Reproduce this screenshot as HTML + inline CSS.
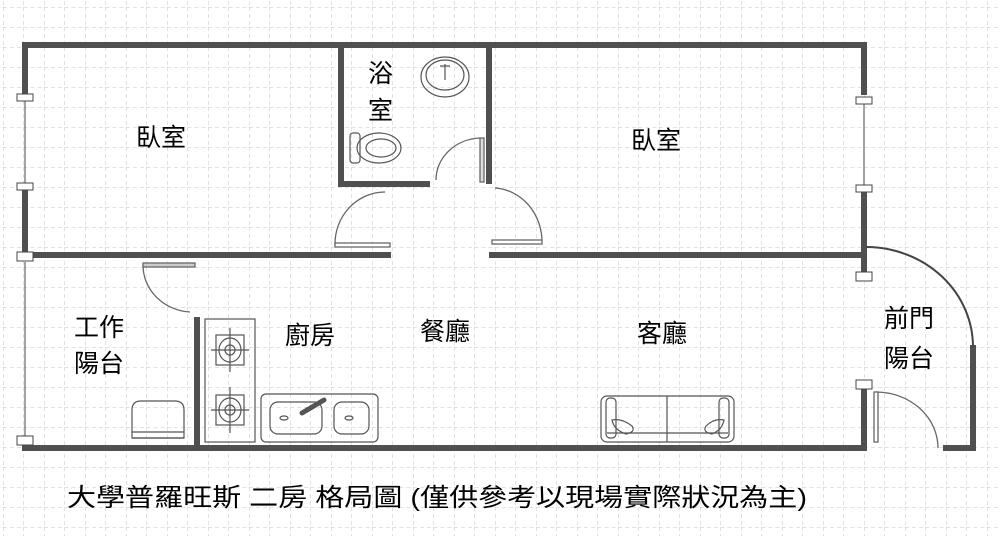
<!DOCTYPE html>
<html><head><meta charset="utf-8"><style>
html,body{margin:0;padding:0;background:#fff;}
svg{display:block;}
text{font-family:"Liberation Sans","Noto Sans CJK TC",sans-serif;fill:#000;}
</style></head><body>
<svg width="1000" height="536" viewBox="0 0 1000 536" xmlns="http://www.w3.org/2000/svg">
<defs>
<pattern id="g" x="3" y="7" width="20.5" height="20" patternUnits="userSpaceOnUse">
<path d="M0 0V20M0 0H20.5" stroke="#c4c4c4" stroke-width="1" stroke-dasharray="4 3" fill="none"/>
</pattern>
</defs>
<rect width="1000" height="536" fill="#fff"/>
<rect width="1000" height="536" fill="url(#g)"/>
<g stroke="#505050" stroke-width="6" fill="none" stroke-linecap="square">
<path d="M25 45H864V92"/>
<path d="M25 45V92"/>
<path d="M25 190V255"/>
<path d="M864 190V272"/>
<path d="M864 390V448H25"/>
<path d="M25 255H388"/>
<path d="M492 255H864"/>
<path d="M341 45V184H427"/>
<path d="M489 45V181"/>
<path d="M197 320V448"/>
<path d="M973 348V448H946"/>
</g>
<g stroke="#666" stroke-width="1.2" fill="none">
<path d="M25 97V186M25 262V440M864 100V188"/>
</g>
<g fill="#fff" stroke="#444" stroke-width="1">
<rect x="17" y="94" width="16" height="7"/>
<rect x="17" y="183" width="16" height="7"/>
<rect x="17" y="252" width="16" height="9"/>
<rect x="17" y="436" width="16" height="9"/>
<rect x="856" y="97" width="16" height="7"/>
<rect x="856" y="185" width="16" height="7"/>
<rect x="856" y="272" width="16" height="9"/>
<rect x="856" y="380" width="16" height="9"/>
</g>
<g stroke="#666" stroke-width="1.3" fill="none">
<path d="M143 265A50 47 0 0 0 190 312"/>
<rect x="143" y="263" width="52" height="4" fill="#ccc"/>
<path d="M335 245A50 52 0 0 1 385 192"/>
<rect x="335" y="243" width="55" height="4" fill="#fff"/>
<path d="M436 180A46 42 0 0 1 480 138"/>
<rect x="480" y="138" width="4" height="44" fill="#ddd"/>
<path d="M542 242A50 54 0 0 0 495 188"/>
<rect x="492" y="240" width="50" height="4" fill="#fff"/>
<path d="M866 247A107 100 0 0 1 973 347" stroke="#444" stroke-width="2"/>
<path d="M876 392A62 56 0 0 1 938 448"/>
<rect x="874" y="392" width="4" height="50" fill="#fff"/>
</g>
<g stroke="#555" stroke-width="1.2" fill="none">
<ellipse cx="445" cy="77" rx="24" ry="20"/>
<ellipse cx="445" cy="75" rx="19" ry="15"/>
<path d="M445 64V80M440 66H450"/>
<rect x="350" y="133" width="10" height="30" rx="3"/>
<ellipse cx="379" cy="148" rx="22" ry="15"/>
<ellipse cx="381" cy="148" rx="15" ry="9"/>
<rect x="205" y="319" width="50" height="123"/>
<rect x="216" y="335" width="28" height="30"/><ellipse cx="230" cy="350" rx="11" ry="12"/><circle cx="230" cy="350" r="5"/>
<path d="M230 328V372M211 350H249"/>
<rect x="216" y="395" width="28" height="30"/><ellipse cx="230" cy="410" rx="11" ry="12"/><circle cx="230" cy="410" r="5"/>
<path d="M230 387V433M211 410H249"/>
<rect x="261" y="394" width="117" height="48" rx="5"/>
<rect x="270" y="402" width="52" height="32" rx="8"/>
<rect x="334" y="402" width="35" height="32" rx="8"/>
<ellipse cx="284" cy="418" rx="4" ry="2"/><ellipse cx="349" cy="418" rx="4" ry="2"/>
<path d="M302 413L324 400" stroke-width="5" stroke-linecap="round"/>
<path d="M132 438V410Q132 401 141 401H175Q184 401 184 410V438Z"/>
<path d="M132 432H184M132 438H184"/>
<rect x="601" y="396" width="133" height="46" rx="6"/>
<path d="M667 396V442M607 433H728"/>
<rect x="606" y="398" width="10" height="40" rx="4"/>
<rect x="719" y="398" width="10" height="40" rx="4"/>
<path d="M612 420Q622 418 632 426Q636 432 626 434Q614 430 612 420Z"/>
<path d="M724 420Q714 418 706 426Q702 432 712 434Q722 430 724 420Z"/>
</g>
<g font-size="25">
<text x="136" y="146">臥室</text>
<text x="631" y="149">臥室</text>
<text x="368" y="82">浴</text>
<text x="368" y="119">室</text>
<text x="74" y="336">工作</text>
<text x="74" y="372">陽台</text>
<text x="285" y="344">廚房</text>
<text x="420" y="340">餐廳</text>
<text x="637" y="342">客廳</text>
<text x="884" y="327">前門</text>
<text x="884" y="367">陽台</text>
</g>
<text x="67" y="506" font-size="25" textLength="740" lengthAdjust="spacingAndGlyphs">大學普羅旺斯 二房 格局圖 (僅供參考以現場實際狀況為主)</text>
</svg>
</body></html>
